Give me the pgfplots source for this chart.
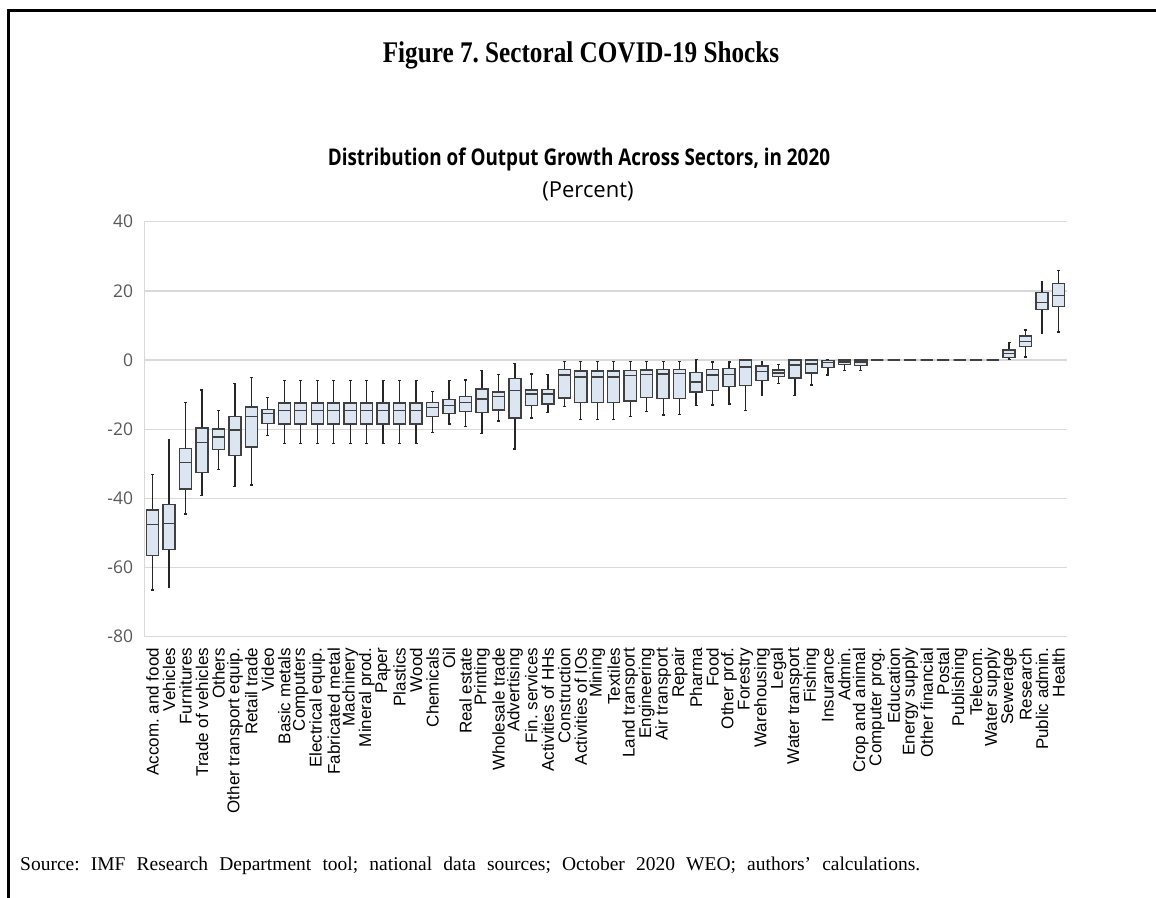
\documentclass[border=0pt]{standalone}
\usepackage{fontspec}
\setmainfont{Liberation Serif}
\newfontfamily\arialf{Liberation Sans}
\newfontfamily\segoe{Open Sans}
\usepackage{pgfplots}
\usepgfplotslibrary{statistics}
\pgfplotsset{compat=1.18}
\frenchspacing

\definecolor{boxfill}{HTML}{DCE6F2}
\definecolor{boxedge}{HTML}{404040}
\definecolor{whisk}{HTML}{262626}
\definecolor{gridc}{HTML}{D9D9D9}
\definecolor{tickc}{HTML}{595959}

% position, lower whisker, lower quartile, median, upper quartile, upper whisker
\newcommand\bx[6]{\addplot+[draw=boxedge, solid, mark=none,
  boxplot prepared={draw direction=y, draw position=#1, lower whisker=#2, lower quartile=#3,
    median=#4, upper quartile=#5, upper whisker=#6}] coordinates {};}

\begin{document}
\begin{tikzpicture}
\useasboundingbox (0bp,0bp) rectangle (1156bp,898bp);
% frame
\draw[line width=3bp] (6.7bp,887.5bp) -- (1156bp,887.5bp);
\draw[line width=3.3bp] (8.3bp,889bp) -- (8.3bp,0bp);

\node[anchor=base, inner sep=0pt, font=\bfseries\fontsize{30bp}{30bp}\selectfont] at (581bp,835bp) {\scalebox{0.84}[1]{Figure 7. Sectoral COVID-19 Shocks}};
\node[anchor=base, inner sep=0pt, font=\segoe\bfseries\fontsize{23bp}{23bp}\selectfont] at (579bp,732.5bp) {\scalebox{0.82}[1]{Distribution of Output Growth Across Sectors, in 2020}};
\node[anchor=base, inner sep=0pt, font=\segoe\fontsize{22bp}{22bp}\selectfont] at (588bp,700.5bp) {(Percent)};
\node[anchor=base west, inner sep=0pt, font=\fontsize{19.5bp}{19.5bp}\selectfont] at (20bp,27.3bp) {\makebox[900bp][s]{Source: IMF Research Department tool; national data sources; October 2020 WEO; authors’ calculations.}};

\begin{axis}[
    at={(144.3bp,261.3bp)}, anchor=south west,
    scale only axis,
    width=922.4bp, height=415bp,
    xmin=0.5, xmax=56.5,
    ymin=-80, ymax=40,
    cycle list={{boxedge,solid}},
    axis lines=left,
    axis line style={-, draw=gridc, line width=1.3bp},
    ymajorgrids=true,
    grid style={draw=gridc, line width=1.3bp},
    major tick length=0pt,
    ytick={-80,-60,...,40},
    yticklabels={-80,-60,-40,-20,0,20,40},
    yticklabel style={font=\segoe\fontsize{17.5bp}{17.5bp}\selectfont, text=tickc, inner sep=0pt, anchor=east},
    yticklabel shift=11bp,
    xtick={1,...,56},
    xticklabels={Accom. and food, Vehicles, Furnitures, Trade of vehicles, Others, Other transport equip., Retail trade, Video, Basic metals, Computers, Electrical equip., Fabricated metal, Machinery, Mineral prod., Paper, Plastics, Wood, Chemicals, Oil, Real estate, Printing, Wholesale trade, Advertising, Fin. services, Activities of HHs, Construction, Activities of IOs, Mining, Textiles, Land transport, Engineering, Air transport, Repair, Pharma, Food, Other prof., Forestry, Warehousing, Legal, Water transport, Fishing, Insurance, Admin., Crop and animal, Computer prog., Education, Energy supply, Other financial, Postal, Publishing, Telecom., Water supply, Sewerage, Research, Public admin., Health},
    xticklabel style={font=\arialf\fontsize{17bp}{17bp}\selectfont, text=black, rotate=90, anchor=east, inner sep=0pt},
    xticklabel shift=11bp,
    boxplot/box extend=0.73,
    boxplot/whisker extend=0.18,
    boxplot/every box/.style={draw=boxedge, fill=boxfill, line width=1.4bp},
    boxplot/every median/.style={draw=boxedge, line width=1.4bp},
    boxplot/every whisker/.style={draw=whisk, line width=1.3bp},
]
\bx{1}{-66.5}{-56.5}{-47.5}{-43.4}{-33.2}
\bx{2}{-65.8}{-54.8}{-47.3}{-41.7}{-23.1}
\bx{3}{-44.5}{-37.3}{-29.7}{-25.5}{-12.3}
\bx{4}{-39.1}{-32.5}{-23.8}{-19.7}{-8.7}
\bx{5}{-31.6}{-25.8}{-22.2}{-20.0}{-14.5}
\bx{6}{-36.6}{-27.6}{-20.2}{-16.4}{-6.8}
\bx{7}{-36.1}{-25.1}{-16.4}{-13.6}{-5.1}
\bx{8}{-21.9}{-18.3}{-15.4}{-14.3}{-10.9}
\bx{9}{-24.2}{-18.5}{-14.6}{-12.4}{-6.0}
\bx{10}{-24.2}{-18.5}{-14.6}{-12.4}{-6.0}
\bx{11}{-24.2}{-18.5}{-14.6}{-12.4}{-6.0}
\bx{12}{-24.2}{-18.5}{-14.6}{-12.4}{-6.0}
\bx{13}{-24.2}{-18.5}{-14.6}{-12.4}{-6.0}
\bx{14}{-24.2}{-18.5}{-14.6}{-12.4}{-6.0}
\bx{15}{-24.2}{-18.5}{-14.6}{-12.4}{-6.0}
\bx{16}{-24.2}{-18.5}{-14.6}{-12.4}{-6.0}
\bx{17}{-24.2}{-18.5}{-14.6}{-12.4}{-6.0}
\bx{18}{-21.0}{-16.3}{-13.7}{-12.3}{-9.2}
\bx{19}{-18.5}{-15.4}{-13.1}{-11.4}{-6.0}
\bx{20}{-19.2}{-14.9}{-12.3}{-10.6}{-5.8}
\bx{21}{-21.3}{-15.2}{-11.3}{-8.4}{-3.1}
\bx{22}{-17.6}{-14.4}{-10.6}{-9.3}{-4.1}
\bx{23}{-25.7}{-16.8}{-8.8}{-5.3}{-1.1}
\bx{24}{-16.8}{-13.1}{-9.8}{-8.7}{-4.0}
\bx{25}{-15.1}{-12.7}{-9.8}{-8.6}{-4.1}
\bx{26}{-13.5}{-11.0}{-4.3}{-2.8}{-0.5}
\bx{27}{-17.1}{-12.2}{-4.9}{-3.2}{-0.5}
\bx{28}{-17.1}{-12.2}{-4.9}{-3.2}{-0.5}
\bx{29}{-17.1}{-12.2}{-4.9}{-3.2}{-0.5}
\bx{30}{-16.4}{-11.8}{-4.5}{-3.0}{-0.5}
\bx{31}{-14.9}{-10.9}{-4.1}{-2.9}{-0.5}
\bx{32}{-15.9}{-11.1}{-4.0}{-2.7}{-0.5}
\bx{33}{-15.8}{-11.1}{-3.9}{-2.7}{-0.5}
\bx{34}{-13.2}{-9.3}{-6.3}{-3.6}{0.1}
\bx{35}{-13.0}{-8.8}{-4.3}{-2.7}{-0.6}
\bx{36}{-12.7}{-7.6}{-4.2}{-2.4}{-0.6}
\bx{37}{-14.6}{-7.3}{-2.0}{0.0}{0.0}
\bx{38}{-10.1}{-5.9}{-3.4}{-1.7}{-0.6}
\bx{39}{-6.8}{-4.7}{-3.8}{-2.9}{-1.2}
\bx{40}{-10.3}{-5.2}{-1.4}{0.0}{0.0}
\bx{41}{-7.2}{-3.7}{-1.1}{0.0}{0.0}
\bx{42}{-4.3}{-2.1}{-0.8}{-0.2}{0.0}
\bx{43}{-3.0}{-1.3}{-0.6}{0.0}{0.0}
\bx{44}{-3.0}{-1.5}{-0.6}{0.0}{0.0}
\bx{45}{0}{0}{0}{0}{0}
\bx{46}{0}{0}{0}{0}{0}
\bx{47}{0}{0}{0}{0}{0}
\bx{48}{0}{0}{0}{0}{0}
\bx{49}{0}{0}{0}{0}{0}
\bx{50}{0}{0}{0}{0}{0}
\bx{51}{0}{0}{0}{0}{0}
\bx{52}{0}{0}{0}{0}{0}
\bx{53}{0.2}{0.8}{1.8}{2.9}{5.0}
\bx{54}{0.9}{3.9}{5.4}{7.0}{8.7}
\bx{55}{7.8}{14.6}{16.6}{19.5}{22.7}
\bx{56}{8.1}{15.5}{18.6}{22.1}{25.8}
\end{axis}
\end{tikzpicture}
\end{document}
